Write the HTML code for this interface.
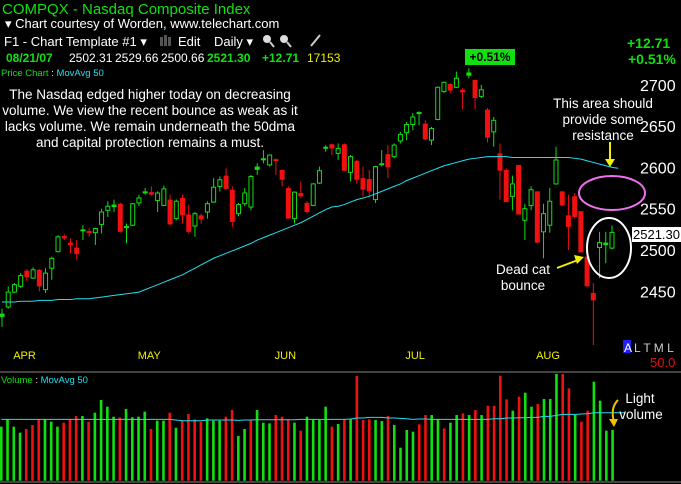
<!DOCTYPE html>
<html><head><meta charset="utf-8"><style>
html,body{margin:0;padding:0;background:#000;}
svg{display:block;font-family:"Liberation Sans",sans-serif;}
</style></head><body>
<svg id="chart" width="681" height="484" viewBox="0 0 681 484" xmlns="http://www.w3.org/2000/svg">
<rect x="0" y="0" width="681" height="484" fill="#000"/>
<text x="2" y="14" fill="#10e010" font-size="15">COMPQX - Nasdaq Composite Index</text>
<text x="5" y="28" fill="#fff" font-size="13">▾ Chart courtesy of Worden, www.telechart.com</text>
<text x="4" y="46" fill="#fff" font-size="13">F1 - Chart Template #1 ▾</text>
<g><rect x="160" y="37" width="3" height="9" fill="#555"/><rect x="164" y="35" width="3" height="11" fill="#555"/><rect x="168" y="37" width="3" height="9" fill="#555"/><text x="178" y="46" fill="#fff" font-size="13">Edit</text></g>
<text x="214" y="46" fill="#fff" font-size="13">Daily ▾</text>
<g><circle cx="267" cy="39" r="4" fill="#ddd"/><line x1="270" y1="42" x2="274" y2="47" stroke="#ccc" stroke-width="2"/></g>
<g><circle cx="284" cy="39" r="4" fill="#ddd"/><line x1="287" y1="42" x2="291" y2="47" stroke="#ccc" stroke-width="2"/></g>
<line x1="311" y1="46" x2="320" y2="35" stroke="#ccc" stroke-width="2"/>
<g font-size="12">
<text x="6" y="62" fill="#10e010" font-weight="bold">08/21/07</text>
<text x="69" y="62" fill="#fff">2502.31</text>
<text x="115" y="62" fill="#fff">2529.66</text>
<text x="161" y="62" fill="#fff">2500.66</text>
<text x="207" y="62" fill="#10e010" font-weight="bold">2521.30</text>
<text x="262" y="62" fill="#10e010" font-weight="bold">+12.71</text>
<text x="307" y="62" fill="#f0f000">17153</text>
</g>
<text x="1" y="76" font-size="9.5"><tspan fill="#10e010">Price Chart</tspan><tspan fill="#fff"> : </tspan><tspan fill="#20e0f0">MovAvg 50</tspan></text>
<text x="627" y="48" fill="#10e010" font-size="14" font-weight="bold">+12.71</text>
<text x="628" y="64" fill="#10e010" font-size="14" font-weight="bold">+0.51%</text>
<rect x="465" y="49" width="50" height="16" fill="#10e010"/>
<text x="490" y="61" fill="#000" font-size="12" font-weight="bold" text-anchor="middle">+0.51%</text>
<g fill="#fff" font-size="13.5" text-anchor="middle">
<text x="150" y="99">The Nasdaq edged higher today on decreasing</text>
<text x="150" y="115">volume. We view the recent bounce as weak as it</text>
<text x="150" y="131">lacks volume. We remain underneath the 50dma</text>
<text x="150" y="147">and capital protection remains a must.</text>
</g>
<g id="yaxis"></g>
<g id="xaxis"></g>
<g id="candles"></g>
<polyline id="ma" fill="none" stroke="#20e0f0" stroke-width="1"/>
<g fill="#fff" font-size="13.5" text-anchor="middle">
<text x="603" y="108">This area should</text>
<text x="603" y="124">provide some</text>
<text x="603" y="140">resistance</text>
</g>
<g><line x1="610" y1="142" x2="610" y2="162" stroke="#f0f000" stroke-width="2"/><polygon points="605,159 615,159 610,167" fill="#f0f000"/></g>
<ellipse cx="612" cy="193" rx="33" ry="17" fill="none" stroke="#f070f0" stroke-width="2"/>
<ellipse cx="609" cy="248" rx="22" ry="30" fill="none" stroke="#fff" stroke-width="2"/>
<g fill="#fff" font-size="13.5" text-anchor="middle">
<text x="523" y="274">Dead cat</text>
<text x="523" y="290">bounce</text>
</g>
<g><line x1="557" y1="268" x2="578" y2="260" stroke="#f0f000" stroke-width="2"/><polygon points="574,255 584,257 577,264" fill="#f0f000"/></g>
<rect x="632" y="227" width="49" height="15" fill="#fff"/>
<text x="633" y="239" fill="#000" font-size="13">2521.30</text>
<g><rect x="623" y="340" width="8" height="13" fill="#2020f0"/><text x="624" y="352" fill="#fff" font-size="12">A</text><text x="634" y="352" fill="#ccc" font-size="12">L T M L</text></g>
<text x="650" y="367" fill="#e01010" font-size="13">50.0</text>
<line x1="0" y1="372" x2="681" y2="372" stroke="#888" stroke-width="1"/>
<line x1="0" y1="482" x2="681" y2="482" stroke="#888" stroke-width="1"/>
<text x="1" y="383" font-size="9.5"><tspan fill="#10e010">Volume</tspan><tspan fill="#fff"> : </tspan><tspan fill="#20e0f0">MovAvg 50</tspan></text>
<g id="vol"></g>
<polyline id="volma" fill="none" stroke="#20e0f0" stroke-width="1"/>
<g fill="#fff" font-size="13.5" text-anchor="middle">
<text x="640" y="403">Light</text>
<text x="641" y="419">volume</text>
</g>
<g><path d="M618,400 Q610,408 614,422" fill="none" stroke="#f0c000" stroke-width="2"/><polygon points="609,419 618,419 614,427" fill="#f0c000"/></g>
</svg>
<script>
var opens=[2419,2431,2449,2456,2475,2466,2476,2452,2478,2498,2517,2509,2503,2523,2523,2521,2531,2548,2552,2556,2528,2530,2557,2569,2570,2560,2554,2561,2538,2563,2543,2529,2542,2546,2558,2577,2590,2573,2544,2556,2552,2597,2609,2603,2610,2597,2575,2538,2569,2557,2554,2581,2623,2628,2617,2628,2594,2608,2587,2586,2561,2603,2616,2613,2632,2642,2652,2666,2653,2633,2658,2692,2701,2697,2694,2711,2706,2686,2670,2643,2617,2597,2565,2603,2536,2554,2571,2522,2530,2580,2571,2542,2565,2547,2492,2448,2503,2506,2502.31];
var highs=[2429,2456,2460,2472,2477,2479,2477,2478,2492,2518,2519,2514,2512,2530,2526,2527,2550,2559,2561,2557,2532,2557,2567,2575,2577,2571,2578,2567,2561,2567,2555,2546,2544,2559,2587,2589,2599,2577,2557,2575,2591,2605,2621,2615,2611,2597,2577,2571,2583,2559,2581,2601,2627,2629,2629,2629,2615,2609,2601,2597,2602,2621,2627,2629,2643,2655,2666,2668,2657,2649,2698,2704,2702,2716,2696,2720,2706,2700,2672,2661,2629,2599,2590,2603,2556,2577,2571,2556,2575,2625,2571,2567,2569,2547,2492,2460,2522,2522,2529.66];
var lows=[2407,2429,2448,2454,2462,2465,2450,2448,2464,2497,2512,2496,2488,2512,2516,2506,2520,2540,2546,2521,2508,2529,2553,2567,2566,2546,2553,2530,2536,2532,2520,2516,2532,2538,2557,2571,2573,2528,2541,2553,2548,2591,2605,2601,2591,2577,2538,2532,2563,2544,2553,2580,2619,2615,2609,2595,2583,2580,2565,2565,2557,2601,2587,2611,2629,2633,2645,2651,2633,2627,2657,2690,2690,2696,2670,2708,2670,2684,2630,2625,2561,2558,2548,2543,2512,2548,2508,2490,2521,2579,2553,2500,2538,2497,2456,2385,2466,2484,2500.66];
var closes=[2423,2449,2458,2469,2467,2476,2456,2472,2490,2516,2514,2506,2495,2525,2521,2526,2546,2553,2555,2522,2529,2556,2563,2571,2567,2569,2574,2531,2559,2542,2522,2544,2537,2556,2576,2585,2574,2534,2555,2569,2589,2601,2611,2615,2608,2585,2538,2570,2565,2546,2580,2596,2625,2623,2623,2596,2613,2585,2573,2571,2601,2605,2600,2627,2640,2652,2661,2667,2634,2647,2697,2703,2693,2708,2691,2715,2684,2694,2636,2657,2596,2558,2580,2543,2550,2573,2509,2544,2559,2609,2554,2528,2540,2497,2456,2439,2509,2509,2521.30];
var ma50=[2437,2437,2437,2438,2438,2438,2439,2439,2439,2440,2440,2440,2441,2441,2441,2442,2443,2444,2445,2446,2447,2448,2449,2452,2455,2458,2461,2464,2467,2470,2474,2478,2482,2486,2490,2493,2496,2499,2502,2505,2508,2512,2515,2518,2521,2524,2527,2530,2533,2537,2541,2545,2549,2552,2553,2555,2558,2561,2563,2565,2568,2571,2574,2577,2580,2584,2587,2590,2593,2596,2599,2602,2604,2606,2608,2610,2611,2612,2613,2613,2613,2613,2612,2612,2612,2612,2612,2612,2612,2612,2612,2612,2611,2610,2608,2606,2604,2602,2600,2599];
var priceTicks=[2450,2500,2550,2600,2650,2700];
var monthLabels=["APR","MAY","JUN","JUL","AUG"];
var monthStartIdx=[1,21,43,64,85];
var volumes=[1620,1840,1620,1440,1550,1670,1840,1840,1770,1620,1740,1840,1940,1940,1770,2040,2420,2220,1920,1900,2150,1900,1920,2070,1550,1800,1800,2040,1590,1790,2000,1840,1770,1870,1800,1800,1920,2120,1340,1550,1820,2120,1740,1720,1970,1920,1840,1740,1500,1920,1820,1820,2220,1620,1700,1840,1840,3140,1820,1840,1820,1790,1940,1670,990,1520,1470,1690,1970,1970,1840,1570,1740,1970,2020,1970,2120,1970,2250,2250,3150,2440,2100,2520,2640,2220,2300,2450,2450,3200,3200,2770,1970,1770,2100,2970,2400,1500,1520];
var volColors="ggggrrrgggrrrgrggggrggggrggrgrrrrgggrrggrgggrrrgrggggrgrgrrrggrggggrrggrggrgrgrrrrgrggrgggrrgrrgg";
var volMA=[1840,1840,1840,1840,1840,1840,1840,1840,1840,1840,1840,1840,1840,1840,1840,1840,1840,1840,1840,1840,1840,1840,1840,1840,1840,1840,1840,1840,1820,1800,1800,1800,1800,1820,1820,1820,1820,1820,1810,1820,1820,1830,1830,1830,1830,1830,1830,1830,1840,1840,1840,1840,1840,1840,1840,1840,1850,1880,1880,1900,1900,1900,1880,1880,1870,1860,1840,1850,1850,1840,1840,1840,1840,1840,1840,1840,1840,1840,1840,1860,1860,1880,1880,1890,1890,1900,1900,1930,1930,1960,1990,1990,1990,2000,2010,2040,2040,2040,2040,2040,2040];

var NS="http://www.w3.org/2000/svg";
function el(tag,attrs,parent){var e=document.createElementNS(NS,tag);for(var k in attrs)e.setAttribute(k,attrs[k]);parent.appendChild(e);return e;}
function yP(p){return 250-(p-2500)*0.826;}
function xC(i){return 2+i*(610/(opens.length-1));}
function xV(i){return 1.3+i*(611.3/(volumes.length-1));}
function yV(v){return 480.7-v/30;}

var ya=document.getElementById('yaxis');
priceTicks.forEach(function(t){
  var tx=el('text',{x:640,y:yP(t)+6,fill:'#fff','font-size':16},ya);
  
  
  tx.textContent=t;
});
var xa=document.getElementById('xaxis');
monthLabels.forEach(function(m,k){
  var tx=el('text',{x:xC(monthStartIdx[k])+5,y:359,fill:'#f0f000','font-size':11},xa);
  
  
  tx.textContent=m;
});
var cg=document.getElementById('candles');
for(var i=0;i<opens.length;i++){
  var up=closes[i]>=opens[i];
  var col=up?'#10e010':'#f01010';
  var cx=xC(i);
  var g=el('g',{},cg);
  
  
  el('line',{x1:cx,x2:cx,y1:yP(highs[i]),y2:yP(lows[i]),stroke:col,'stroke-width':1},g);
  var bTop=yP(Math.max(opens[i],closes[i])),bBot=yP(Math.min(opens[i],closes[i]));
  var bh=Math.max(bBot-bTop,2);
  if(up&&bh>4){el('rect',{x:cx-2,y:bTop,width:4,height:bh,fill:'#000',stroke:col,'stroke-width':1},g);}
  else{el('rect',{x:cx-2.5,y:bTop,width:5,height:bh,fill:col},g);}
}
document.getElementById('ma').setAttribute('points',ma50.map(function(v,i){return xC(i)+','+yP(v);}).join(' '));
var vg=document.getElementById('vol');
for(var j=0;j<volumes.length;j++){
  var c=volColors.charAt(j)==='r'?'#f01010':'#10e010';
  var b=el('rect',{x:xV(j)-1.3,y:yV(volumes[j]),width:2.6,height:480.7-yV(volumes[j]),fill:c},vg);
  
  
}
document.getElementById('volma').setAttribute('points',volMA.map(function(v,i){return xV(i)+','+yV(v);}).join(' '));
</script>
</body></html>
